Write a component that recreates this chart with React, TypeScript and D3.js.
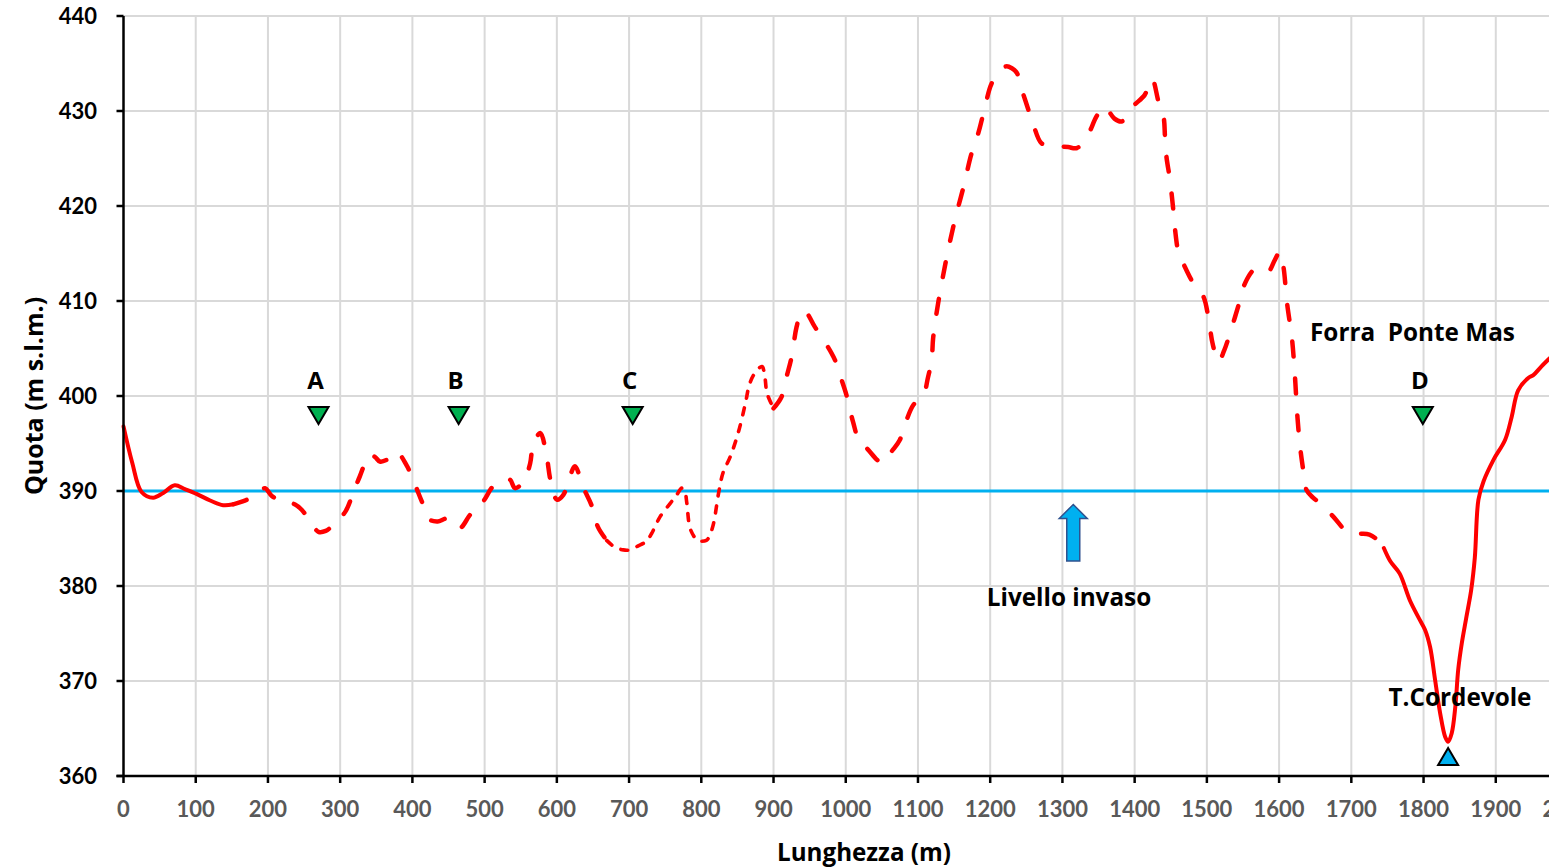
import React from 'react';
import * as d3 from 'd3';

// profile pieces: [distance m, quota m s.l.m.]
const solidWest: [number, number][] = [
  [0, 396.8], [12, 393], [25, 389.9], [41, 389.3], [55, 389.8], [71, 390.6], [85, 390.2],
  [101, 389.7], [120, 389], [138, 388.5], [152, 388.6],
];
const dashedWest: [number, number][] = [
  [152, 388.6], [165, 388.9], [177, 389.3], [190, 390.0], [196, 390.3], [205, 389.5], [217, 389.0],
  [237, 388.6], [247, 388.0], [256, 387.1], [270, 385.7], [280, 385.8], [290, 386.4], [307, 387.8],
  [318, 389.8], [327, 391.5], [341, 393.8], [348, 393.6], [355, 393.1], [365, 393.3], [378, 394.1],
  [392, 392.7], [404, 390.6], [413, 388.9], [424, 387.0], [435, 386.8], [448, 387.1], [458, 386.6],
  [466, 386.1], [480, 387.5], [498, 388.9], [512, 390.5], [528, 391.0], [535, 391.2], [542, 390.3],
  [554, 391.0], [563, 392.9], [567, 394.8], [577, 396.1], [586, 393.6], [591, 391.2], [600, 389.1],
  [609, 389.6], [618, 391.5], [625, 392.6], [637, 390.3], [648, 388.5], [657, 386.2], [669, 384.8],
];
const dottedMiddle: [number, number][] = [
  [669, 384.8], [680, 384.1], [692, 383.8], [701, 383.8], [712, 384.2], [724, 384.7], [731, 385.5],
  [743, 387.3], [757, 388.7], [766, 389.6], [773, 390.3], [777, 390.0], [780, 388.7], [784, 386.2],
  [790, 385.2], [794, 384.8], [807, 384.8], [812, 385.4], [817, 386.6], [824, 389.8], [830, 391.9],
  [840, 393.6], [851, 396.1], [861, 399.2], [867, 401.3], [875, 402.5], [884, 403.1], [888, 402.0],
  [891, 400.3], [900, 398.7],
];
const dashedEast: [number, number][] = [
  [900, 398.7], [911, 399.9], [918, 402.0], [925, 404.1], [932, 407.3], [939, 408.9], [945, 408.8],
  [957, 407.3], [971, 405.7], [985, 403.8], [992, 402.2], [1001, 400.1], [1010, 397.3], [1020, 395.0],
  [1029, 394.5], [1043, 393.3], [1050, 392.9], [1057, 393.6], [1066, 394.4], [1075, 395.4],
  [1082, 397.0], [1094, 399.1], [1107, 400.0], [1114, 402.0], [1119, 403.8], [1121, 406.1],
  [1128, 409.8], [1140, 414.7], [1151, 418.5], [1163, 422.0], [1174, 425.5], [1184, 427.8],
  [1193, 430.5], [1202, 432.9], [1214, 434.1], [1222, 434.7], [1230, 434.5], [1237, 434.0],
  [1244, 432.2], [1253, 430.1], [1260, 428.5], [1271, 426.6], [1283, 426.4], [1294, 426.3],
  [1308, 426.2], [1320, 426.1], [1334, 427.3], [1347, 429.4], [1357, 430.5], [1363, 430.1],
  [1372, 429.2], [1382, 428.9], [1391, 429.6], [1398, 430.5], [1414, 431.7], [1424, 433.4],
  [1433, 431.0], [1440, 429.4], [1442, 427.3], [1444, 425.2], [1449, 422.7], [1454, 419.2],
  [1456, 417.5], [1461, 415.0], [1467, 414.0], [1481, 411.9], [1495, 410.5], [1502, 408.3],
  [1508, 405.5], [1516, 403.6], [1524, 404.8], [1532, 406.6], [1546, 410.1], [1553, 411.9],
  [1567, 413.4], [1576, 413.3], [1585, 413.1], [1594, 414.3], [1601, 415.2], [1606, 413.6],
  [1611, 409.8], [1618, 405.9], [1622, 402.0], [1625, 398.2], [1629, 394.7], [1634, 391.9],
  [1638, 390.1], [1647, 389.3], [1657, 388.7], [1675, 387.3], [1694, 385.7], [1704, 385.5],
  [1714, 385.5], [1725, 385.4], [1737, 384.8], [1745, 384.0],
];
const solidEast: [number, number][] = [
  [1745, 384.0], [1754, 382.6], [1767, 381.3], [1781, 378.5], [1795, 376.4], [1802, 375.4],
  [1809, 373.6], [1816, 370.1], [1823, 366.6], [1830, 364.1], [1834, 363.6], [1839, 364.5],
  [1844, 367.3], [1848, 371.2], [1853, 374.0], [1859, 376.6], [1866, 379.6], [1871, 383.0],
  [1876, 389.1], [1883, 391.0], [1897, 393.3], [1913, 395.4], [1922, 397.8], [1931, 400.6],
  [1945, 401.9], [1952, 402.2], [1963, 403.1], [1975, 404.0],
];

const sectionLabels = ['A', 'B', 'C', 'D'];
const sectionDist = [270, 464, 705, 1799];
const sectionQuota = 398;

const livelloInvaso = 390;
const riverDist = 1834;
const riverQuota = 362;
const arrowDist = 1315;

const xTicks = d3.range(0, 2001, 100);
const yTicks = d3.range(360, 441, 10);

const W = 1549;
const H = 867;
const TICKFONT = 'Lato, "Open Sans", sans-serif';
const FONT = '"Open Sans", Lato, sans-serif';

export default function App() {
  const x = d3.scaleLinear().domain([0, 2000]).range([123.5, 1568]);
  const y = d3.scaleLinear().domain([360, 440]).range([776, 16]);

  const line = d3
    .line<[number, number]>()
    .x(d => x(d[0]))
    .y(d => y(d[1]))
    .curve(d3.curveCatmullRom.alpha(0.5));

  const red = '#FF0000';
  const x0 = x(0);
  const yBase = y(360);

  // arrow geometry
  const ax = x(arrowDist);
  const aTop = y(livelloInvaso) + 13.5;

  return (
    <svg width={W} height={H} style={{ position: 'absolute', left: 0, top: 0, background: '#fff' }}>
      {/* grid */}
      {xTicks.filter(t => t > 0).map(t => (
        <line key={'gx' + t} x1={x(t)} x2={x(t)} y1={y(440)} y2={yBase} stroke="#D9D9D9" strokeWidth={2} />
      ))}
      {yTicks.filter(t => t > 360).map(t => (
        <line key={'gy' + t} x1={x0} x2={x(2000)} y1={y(t)} y2={y(t)} stroke="#D9D9D9" strokeWidth={2} />
      ))}

      {/* reservoir level */}
      <line x1={x0} x2={x(2000)} y1={y(livelloInvaso)} y2={y(livelloInvaso)} stroke="#00B0F0" strokeWidth={3} />

      {/* profile */}
      <path d={line(solidWest) || ''} fill="none" stroke={red} strokeWidth={4} strokeLinejoin="round" strokeLinecap="round" />
      <path d={line(dashedWest) || ''} fill="none" stroke={red} strokeWidth={4.5} strokeDasharray="14 21" strokeLinecap="round" />
      <path d={line(dottedMiddle) || ''} fill="none" stroke={red} strokeWidth={3.6} strokeDasharray="7 10" strokeLinecap="round" />
      <path d={line(dashedEast) || ''} fill="none" stroke={red} strokeWidth={4.5} strokeDasharray="15 22" strokeLinecap="round" />
      <path d={line(solidEast) || ''} fill="none" stroke={red} strokeWidth={4} strokeLinejoin="round" strokeLinecap="round" />

      {/* section markers */}
      {sectionLabels.map((s, i) => {
        const cx = x(sectionDist[i]);
        const cy = y(sectionQuota);
        return (
          <g key={s}>
            <path
              d={`M${cx - 10},${cy - 8} L${cx + 10},${cy - 8} L${cx},${cy + 9} Z`}
              fill="#00B050"
              stroke="#000"
              strokeWidth={2}
            />
            <text x={cx - 3} y={cy - 26} textAnchor="middle" fontFamily={FONT} fontWeight="bold" fontSize={24}>
              {s}
            </text>
          </g>
        );
      })}

      {/* river marker */}
      {(() => {
        const cx = x(riverDist);
        const cy = y(riverQuota);
        return (
          <path
            d={`M${cx},${cy - 9} L${cx + 10},${cy + 8} L${cx - 10},${cy + 8} Z`}
            fill="#00B0F0"
            stroke="#000"
            strokeWidth={2}
          />
        );
      })()}

      {/* arrow */}
      <path
        d={`M${ax},${aTop} L${ax + 14},${aTop + 14} L${ax + 6.5},${aTop + 14} L${ax + 6.5},${aTop + 56.5} L${ax - 6.5},${aTop + 56.5} L${ax - 6.5},${aTop + 14} L${ax - 14},${aTop + 14} Z`}
        fill="#00B0F0"
        stroke="#2F528F"
        strokeWidth={1.5}
      />

      {/* annotations */}
      <text x={1069} y={606} textAnchor="middle" fontFamily={FONT} fontWeight="bold" fontSize={24.3}>Livello invaso</text>
      <text x={1310} y={341} fontFamily={FONT} fontWeight="bold" fontSize={24.3} style={{ whiteSpace: 'pre' }}>Forra  Ponte Mas</text>
      <text x={1460} y={706} textAnchor="middle" fontFamily={FONT} fontWeight="bold" fontSize={24.3}>T.Cordevole</text>

      {/* axes */}
      <line x1={x0} x2={x0} y1={y(440)} y2={yBase} stroke="#000" strokeWidth={2.5} />
      <line x1={x0 - 7} x2={x(2000)} y1={yBase} y2={yBase} stroke="#000" strokeWidth={2.5} />
      {yTicks.map(t => (
        <g key={'yt' + t}>
          <line x1={x0 - 7} x2={x0} y1={y(t)} y2={y(t)} stroke="#000" strokeWidth={2.5} />
          <text x={97} y={y(t) + 8} textAnchor="end" fontFamily={TICKFONT} fontWeight="bold" fontSize={22} fill="#000">
            {t}
          </text>
        </g>
      ))}
      {xTicks.map(t => (
        <g key={'xt' + t}>
          <line x1={x(t)} x2={x(t)} y1={yBase} y2={yBase + 7} stroke="#000" strokeWidth={2.5} />
          <text x={x(t)} y={817} textAnchor="middle" fontFamily={TICKFONT} fontWeight="bold" fontSize={22} fill="#595959">
            {t}
          </text>
        </g>
      ))}

      <text x={864} y={861} textAnchor="middle" fontFamily={FONT} fontWeight="bold" fontSize={24.2}>Lunghezza (m)</text>
      <text
        transform={`translate(43,396) rotate(-90)`}
        textAnchor="middle"
        fontFamily={FONT}
        fontWeight="bold"
        fontSize={25}
      >
        Quota (m s.l.m.)
      </text>
    </svg>
  );
}
